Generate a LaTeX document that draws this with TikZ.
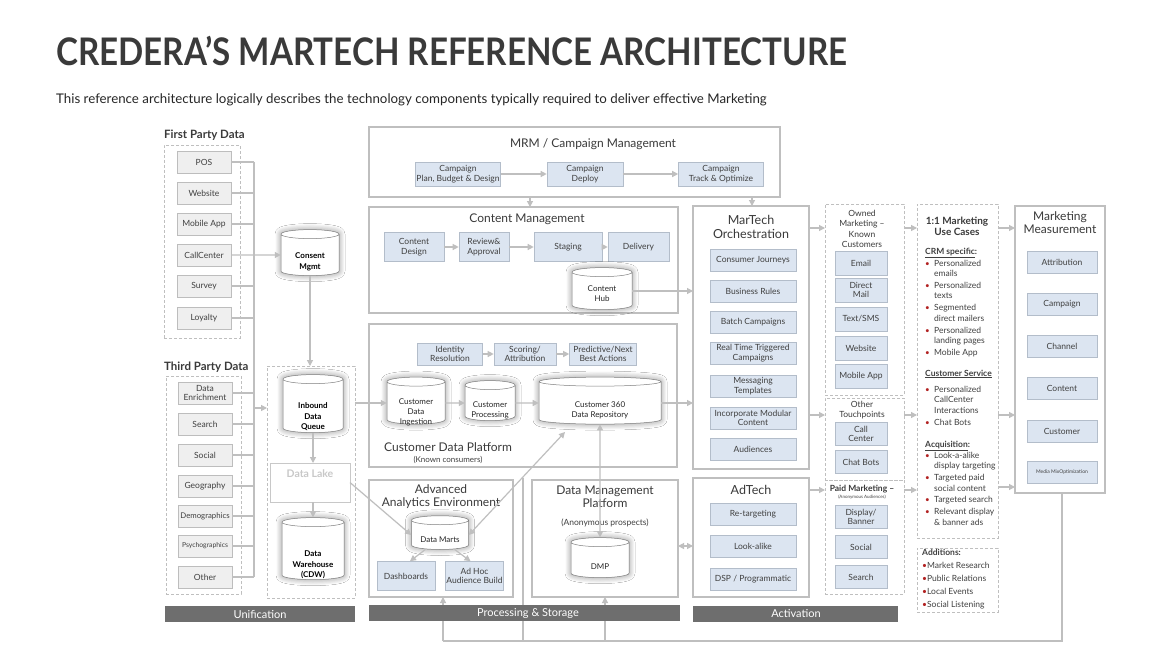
\documentclass[tikz,border=0pt]{standalone}
\usepackage{fontspec}
\setmainfont{Lato}
\usetikzlibrary{arrows.meta,shapes.geometric,shadows.blur,calc}
\definecolor{ttxt}{HTML}{3A3A3A}
\definecolor{txt}{HTML}{404040}
\definecolor{lgray}{HTML}{BFBFBF}
\definecolor{bfill}{HTML}{DCE5F1}
\definecolor{bdraw}{HTML}{B3BDCA}
\definecolor{gfill}{HTML}{EFEFEF}
\definecolor{gdraw}{HTML}{BDBDBD}
\definecolor{cdraw}{HTML}{7F7F7F}
\definecolor{barc}{HTML}{6E6E6E}
\definecolor{bulred}{HTML}{B22222}
\definecolor{lakec}{HTML}{C8C8C8}
\newcommand\fs[2]{\fontsize{#1}{#2}\selectfont}
\newcommand\bx[6][]{\node[#1,inner sep=0pt,outer sep=0pt,minimum width={#5-#3},minimum height={#6-#4}] (#2) at ({(#3+#5)/2},{(#4+#6)/2}) {};}
% cylinder: [text style]{name}{x}{y}{w}{h}{text dy}{text}
\newcommand\cyln[8][]{\node[cyl,minimum width=#5,minimum height=#6] (#2) at (#3,#4) {\phantom{\rule{30pt}{20pt}}};
  \node[cyltxt,#1] (#2T) at (#3,#4+#7) {#8};}
\tikzset{
  every node/.style={inner sep=1pt, text=txt},
  big/.style={draw=lgray, line width=2.5pt, fill=white},
  dbox/.style={draw=lgray, line width=0.8pt, dash pattern=on 3pt off 2pt},
  bitem/.style={draw=bdraw, fill=bfill, line width=0.6pt, align=center, font=\fs{8.5}{9.5}, minimum height=22, inner sep=1pt},
  gitem/.style={draw=gdraw, fill=gfill, line width=0.6pt, align=center, font=\fs{8.5}{9.5}, minimum width=54, minimum height=22},
  cyl/.style={cylinder, shape border rotate=90, aspect=0.3, draw=cdraw, line width=0.5pt, fill=white, inner sep=0pt,
    blur shadow={shadow xshift=0pt, shadow yshift=0pt, shadow blur radius=6pt, shadow opacity=45, shadow blur steps=12}},
  cyltxt/.style={align=center, font=\fs{8}{10}, text=black!85, inner sep=0pt},
  cbold/.style={font=\fs{8}{10.5}\bfseries, text=black},
  line/.style={draw=lgray, line width=1.2pt},
  conn/.style={line, -{Triangle[length=6pt,width=6pt]}},
  conn2/.style={line, {Triangle[length=6pt,width=6pt]}-{Triangle[length=6pt,width=6pt]}},
  bar/.style={fill=barc, draw=none, text=white, font=\fs{11}{12}},
  ttl/.style={font=\fs{12}{13.5}, text=ttxt, align=center},
  hdr/.style={font=\fs{11.5}{13}\bfseries, text=ttxt, inner sep=0pt},
  uct/.style={font=\fs{8.5}{10}, anchor=base west, inner sep=0pt},
  bul/.style={font=\fs{8}{9}, text=bulred, inner sep=0pt},
}
\begin{document}
\begin{tikzpicture}[x=1pt,y=-1pt]
\useasboundingbox (0,0) rectangle (1157,650);
\fill[white] (0,0) rectangle (1157,650);
% ---------- title ----------
\node[anchor=base west, font=\fs{38}{40}\bfseries, text=ttxt, inner sep=0] (title) at (56,66) {\scalebox{0.872}[1]{CREDERA’S MARTECH REFERENCE ARCHITECTURE}};
\node[anchor=base west, font=\fs{13.3}{15}, text=black!85, inner sep=0] (sub) at (56,104) {This reference architecture logically describes the technology components typically required to deliver effective Marketing};
% ---------- left column ----------
\node[hdr, anchor=base west] (fpd) at (164,139) {First Party Data};
\bx[dbox]{fpbox}{164}{145}{240}{338}
\foreach \n/\y/\t in {pos/162/POS, web/193/Website, app/224/Mobile App, cc/255/CallCenter, sur/286/Survey, loy/318/Loyalty}
  \node[gitem] (\n) at (204,\y) {\t};
\node[hdr, anchor=base west] (tpd) at (164,370) {Third Party Data};
\bx[dbox]{tpbox}{166}{376}{241}{594}
\foreach \n/\y/\t in {enr/393/{Data\\Enrichment}, sea/424/Search, soc/455/Social, geo/486/Geography}
  \node[gitem] (\n) at (205,\y) {\t};
\node[gitem, font=\fs{7.8}{9}] (dem) at (205,516) {Demographics};
\node[gitem, font=\fs{6.8}{8}] (psy) at (205,546) {Psychographics};
\node[gitem] (oth) at (205,577) {Other};
\coordinate (busT) at (254,162);
\coordinate (busJ) at (254,408);
\draw[line] (busT) -- (busT |- oth.east);
\foreach \n in {pos,web,app,sur,loy,enr,sea,soc,geo,dem,psy,oth}
  \draw[line] (\n.east) -- (\n.east -| busT);
% consent
\cyln[cbold]{consent}{310}{255}{58}{46}{7}{Consent\\Mgmt}
\draw[conn] (cc.east) -- (consent.west);
% unification
\bx[dbox]{unibox}{267}{366}{355}{598}
\draw[conn] (consent.south) -- (consent.south |- unibox.north);
\draw[conn] (busJ) -- (busJ -| unibox.west);
\cyln[cbold]{inq}{313}{406}{60}{58}{11}{Inbound\\Data\\Queue}
\bx[draw=lakec, line width=0.8pt, fill=white]{lake}{270}{463}{350}{502}
\node[font=\fs{10.5}{12}\bfseries, text=lakec] (lakeT) at (310,474) {Data Lake};
\cyln[cbold]{cdw}{313}{551}{62}{62}{14}{Data\\Warehouse\\(CDW)}
\draw[conn] (inq.south) -- (lake.north -| inq.south);
\draw[conn] (lake.south -| cdw.north) -- (cdw.north);
% ---------- MRM ----------
\bx[big]{mrm}{369}{127}{780}{197}
\node[ttl] (mrmT) at (593,144) {MRM / Campaign Management};
\node[bitem, minimum width=84, minimum height=24] (plan) at (458,174) {Campaign\\Plan, Budget \& Design};
\node[bitem, minimum width=76, minimum height=24] (deploy) at (585,174) {Campaign\\Deploy};
\node[bitem, minimum width=85, minimum height=24] (track) at (721,174) {Campaign\\Track \& Optimize};
\draw[conn] (plan) -- (deploy);
\draw[conn] (deploy) -- (track);
% ---------- Content management ----------
\bx[big]{cm}{369}{207}{678}{313}
\node[ttl] (cmT) at (527,219) {Content Management};
\node[bitem, minimum width=60, minimum height=29] (cdes) at (414,247) {Content\\Design};
\node[bitem, minimum width=50, minimum height=29] (rev) at (484,247) {Review\&\\Approval};
\node[bitem, minimum width=68, minimum height=29] (stag) at (568,247) {Staging};
\node[bitem, minimum width=61, minimum height=29] (deliv) at (638.5,247) {Delivery};
\draw[conn] (cdes) -- (rev);
\draw[conn] (rev) -- (stag);
\draw[conn] (stag) -- (deliv);
\cyln{hub}{602}{291}{60}{42}{3}{Content\\Hub}
% ---------- MarTech ----------
\bx[big]{mt}{693}{206}{809}{469}
\node[ttl, font=\fs{12.5}{14}] (mtT) at (751,227) {MarTech\\Orchestration};
\foreach \n/\y/\t in {cj/260/Consumer Journeys, br/291/Business Rules, bc/322/Batch Campaigns, rt/353/{Real Time Triggered\\Campaigns}, mtp/386/{Messaging\\Templates}, imc/418/{Incorporate Modular\\Content}, aud/449/Audiences}
  \node[bitem, minimum width=86] (\n) at (753,\y) {\t};
\draw[conn] (mrm.south -| 530,0) -- (cm.north -| 530,0);
\draw[conn] (mrm.south -| 752,0) -- (mt.north -| 752,0);
\draw[conn] (hub.east) -- (mt.west |- hub.east);
% ---------- CDP ----------
\bx[big]{cdp}{369}{324}{677}{467}
\node[bitem, minimum width=65] (idr) at (450,354) {Identity\\Resolution};
\node[bitem, minimum width=62] (sco) at (525,354) {Scoring/\\Attribution};
\node[bitem, minimum width=67] (pna) at (603,354) {Predictive/Next\\Best Actions};
\draw[conn] (idr) -- (sco);
\draw[conn] (sco) -- (pna);
\cyln{cdi}{416}{403}{58}{47}{9}{Customer\\Data\\Ingestion}
\cyln{cpr}{490}{403}{50}{40}{7}{Customer\\Processing}
\cyln{c360}{600}{403}{122}{47}{7}{Customer 360\\Data Repository}
\node[ttl, font=\fs{12}{13}] (cdpT) at (448,447) {Customer Data Platform};
\node[font=\fs{8}{9}] (cdpS) at (448,460) {(Known consumers)};
\draw[conn] (unibox.east |- cdi.west) -- (cdi.west);
\draw[conn] (cdi.east) -- (cpr.west);
\draw[conn] (cpr.east) -- (c360.west);
\draw[conn] (c360.east) -- (mt.west |- c360.east);
% ---------- Advanced analytics ----------
\bx[big]{aae}{369}{480}{513}{597}
\node[ttl, font=\fs{12}{13}] (aaeT) at (441,497) {Advanced\\Analytics Environment};
\cyln{dm}{440}{535}{57}{33}{5}{Data Marts}
\node[bitem, minimum width=58, minimum height=29] (dash) at (406,576) {Dashboards};
\node[bitem, minimum width=55, minimum height=29] (adhoc) at (474.5,576) {Ad Hoc\\Audience Build};
\draw[conn] (dm.south west) -- ($(dash.north)+(4,0)$);
\draw[conn] (dm.south east) -- ($(adhoc.north)+(-4,0)$);
% ---------- DMP ----------
\bx[big]{dmpb}{532}{480}{678}{597}
\node[ttl, font=\fs{12}{13}] (dmpT) at (605,497) {Data Management\\Platform};
\node[font=\fs{8.5}{10}] (dmpS) at (605,523) {(Anonymous prospects)};
\cyln{dmp}{600}{560}{58}{40}{7}{DMP}
% ---------- AdTech ----------
\bx[big]{ad}{693}{478}{809}{597}
\node[ttl, font=\fs{12.5}{14}] (adT) at (751,490) {AdTech};
\foreach \n/\y/\t in {ret/514/Re-targeting, look/546/Look-alike, dsp/579/{DSP / Programmatic}}
  \node[bitem, minimum width=86] (\n) at (753,\y) {\t};
\draw[conn2] (dmpb.east |- 0,546) -- (ad.west |- 0,546);
% cross links
\coordinate (c360a) at (565,432);
\coordinate (dmj) at (523,478);
\draw[conn2] (dm.east) -- (c360a);
\draw[conn2] (c360.south) -- (dmp.north);
\draw[conn] (lake.east) -- (dm.west);
% ---------- Channels ----------
\bx[dbox]{owned}{825}{204}{904}{395}
\node[font=\fs{8.5}{10.5}, align=center, text=ttxt] (ownT) at (862,229) {Owned\\Marketing –\\Known\\Customers};
\foreach \n/\y/\t in {em/263/Email, dmail/290/{Direct\\Mail}, sms/319/{Text/SMS}, wsite/348/Website, mapp/376/Mobile App}
  \node[bitem, minimum width=52, minimum height=24] (\n) at (861,\y) {\t};
\bx[dbox]{other}{825}{398}{904}{480}
\node[font=\fs{8.5}{10.5}, align=center, text=ttxt] (othT) at (862,410) {Other\\Touchpoints};
\node[bitem, minimum width=52, minimum height=23] (call) at (861,434) {Call\\Center};
\node[bitem, minimum width=52, minimum height=23] (chat) at (861,462) {Chat Bots};
\bx[dbox]{paid}{825}{480}{904}{594}
\node[font=\fs{8.5}{10}\bfseries, text=ttxt] (paidT) at (862,489) {Paid Marketing –};
\node[font=\fs{4.5}{5}] (paidS) at (862,497) {(Anonymous Audiences)};
\foreach \n/\y/\t in {disp/517/{Display/\\Banner}, psoc/547/Social, psea/577/Search}
  \node[bitem, minimum width=52, minimum height=23] (\n) at (861,\y) {\t};
\draw[conn] (mt.east |- 0,228) -- (owned.west |- 0,228);
\draw[conn] (mt.east |- 0,415) -- (other.west |- 0,415);
\draw[conn] (ad.east |- 0,490) -- (paid.west |- 0,490);
% ---------- Use cases ----------
\bx[dbox]{uc}{917}{204}{998}{538}
\bx[dbox]{addb}{917}{548}{998}{612}
\node[font=\fs{10}{11}\bfseries, align=center, text=ttxt] (ucT) at (957,226) {1:1 Marketing\\Use Cases};
\node[uct, font=\fs{8.5}{10}\bfseries] (crm) at (925,254) {\underline{CRM specific}:};
\node[uct, font=\fs{8.5}{10}\bfseries] (csv) at (925,376) {\underline{Customer Service}};
\node[uct, font=\fs{8.5}{10}\bfseries] (acq) at (925,447) {\underline{Acquisition}:};
\foreach \y/\t in {263/Personalized, 273/emails, 285/Personalized, 295/texts, 307/Segmented, 318/direct mailers, 330/Personalized, 340/landing pages, 352/Mobile App, 389/Personalized, 399/CallCenter, 410/Interactions, 422/Chat Bots, 455/Look-a-alike, 465/display targeting, 477/Targeted paid, 488/social content, 499/Targeted search, 511/Relevant display, 522/\& banner ads}
  \node[uct] (uc\y) at (934,\y+3) {\t};
\foreach \y in {263,285,307,330,352,389,422,455,477,499,511}
  \node[bul] (b\y) at (927.5,\y+1.5) {\textbullet};
\node[uct, font=\fs{8.5}{10}\bfseries] (addT) at (922,555) {Additions:};
\foreach \y/\t in {568/Market Research, 581/Public Relations, 594/Local Events, 607/Social Listening}
  \node[uct] (ad\y) at (922,\y) {\textcolor{bulred}{\textbullet}\t};
\draw[conn] (owned.east |- 0,228) -- (uc.west |- 0,228);
\draw[conn] (other.east |- 0,415) -- (uc.west |- 0,415);
\draw[conn] (paid.east |- 0,490) -- (uc.west |- 0,490);
% ---------- Measurement ----------
\bx[big]{meas}{1015}{206}{1105}{493}
\node[ttl, font=\fs{12}{13}] (measT) at (1060,223) {Marketing\\Measurement};
\foreach \n/\y/\t in {m1/262/Attribution, m2/304/Campaign, m3/346/Channel, m4/388/Content, m5/431/Customer}
  \node[bitem, minimum width=70] (\n) at (1062,\y) {\t};
\node[bitem, minimum width=70, font=\fs{5}{6}] (m6) at (1062,472) {Media MixOptimization};
\draw[conn] (uc.east |- 0,228) -- (meas.west |- 0,228);
\draw[conn] (uc.east |- 0,415) -- (meas.west |- 0,415);
\draw[conn] (uc.east |- 0,487) -- (meas.west |- 0,487);
% ---------- feedback loop ----------
\coordinate (lpR) at (1062,641);
\coordinate (lpA) at (443,641);
\coordinate (lpD) at (605,641);
\coordinate (lpM) at (523,641);
\draw[line] (meas.south -| lpR) -- (lpR) -- (lpA);
\draw[conn] (lpA) -- (lpA |- aae.south);
\draw[conn] (lpD) -- (lpD |- dmpb.south);
\draw[line] (lpM) -- (dmj);
% ---------- bars ----------
\bx[bar]{ubar}{165}{606}{355}{622}
\node[text=white, font=\fs{11}{12}] (ubarT) at (260,614) {Unification};
\bx[bar]{pbar}{369}{605}{680}{621}
\node[text=white, font=\fs{11}{12}] (pbarT) at (528,613) {Processing \& Storage};
\bx[bar]{abar}{693}{606}{898}{622}
\node[text=white, font=\fs{11}{12}] (abarT) at (796,614) {Activation};
\end{tikzpicture}
\end{document}
